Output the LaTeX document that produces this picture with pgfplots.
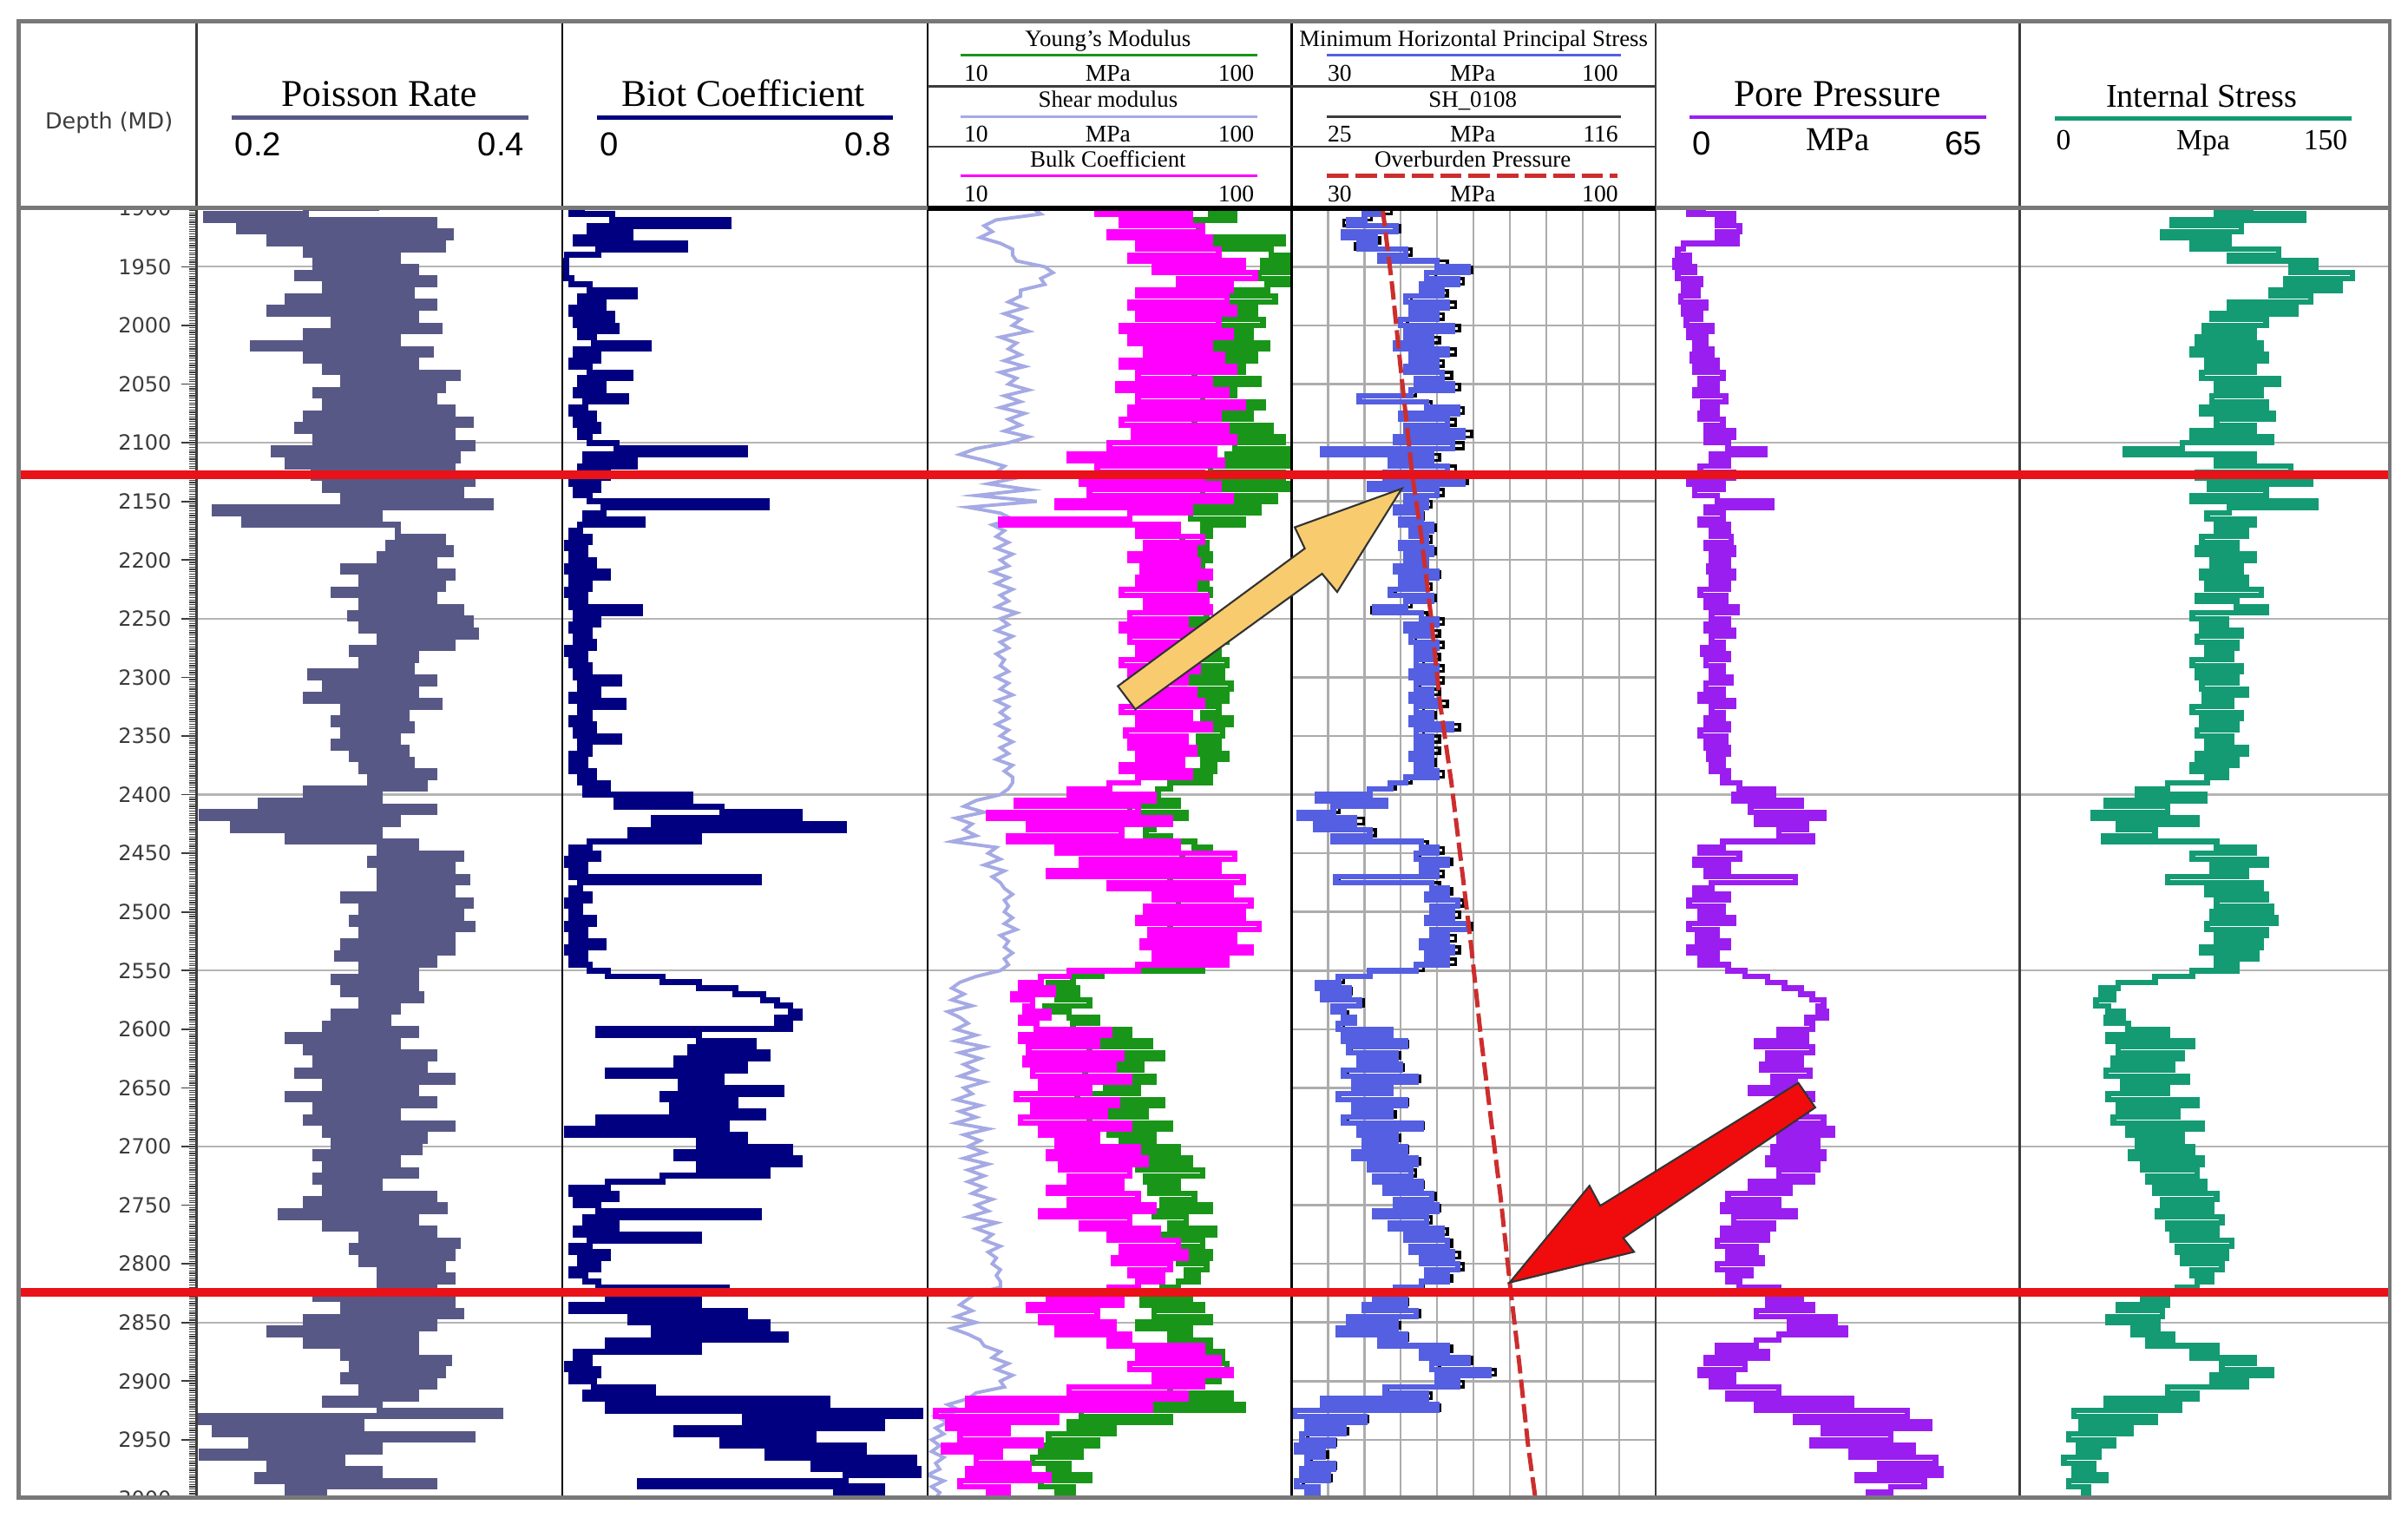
\documentclass[border=0pt]{standalone}
\usepackage{pgfplots}
\pgfplotsset{compat=1.18}
\usepackage{pgfplotstable}
\usepackage{fontspec}
\setmainfont{Liberation Serif}
\newfontfamily\arial{Liberation Sans}
\newfontfamily\dejavu{DejaVu Sans}
\newcommand\fs[1]{\fontsize{#1}{#1}\selectfont}

\definecolor{poiss}{RGB}{88,88,135}
\definecolor{biot}{RGB}{0,0,128}
\definecolor{young}{RGB}{25,150,25}
\definecolor{shear}{RGB}{165,170,228}
\definecolor{bulk}{RGB}{255,0,255}
\definecolor{minh}{RGB}{85,95,225}
\definecolor{obp}{RGB}{205,45,45}
\definecolor{pore}{RGB}{155,30,240}
\definecolor{intl}{RGB}{20,155,115}
\definecolor{redline}{RGB}{232,18,24}
\definecolor{arrowy}{RGB}{248,204,110}
\definecolor{arrowr}{RGB}{240,12,12}
\definecolor{framec}{RGB}{120,120,120}
\definecolor{dgray}{RGB}{60,60,60}
\definecolor{gridc}{RGB}{180,180,180}

% depth, poisson, biot, young, shear, bulk, min horiz stress, SH_0108, pore pressure, internal stress
\pgfplotstableread{
d po bi ym sm bk mh sh pp is
1900 .30 .05 84 36 70 55 58 9 95
1905 .26 .02 80 38 52 47 50 6 80
1910 .205 .11 86 27 75 44 45 14 115
1915 .33 .365 72 24 58 41 38 11 62
1920 .223 .06 77 26 78 50 52 15 90
1925 .339 .15 70 23 55 40 40 11 58
1930 .24 .03 98 28 80 46 47 14.5 85
1935 .335 .27 72 31 62 43 41 5 70
1940 .26 .08 95 31 82 52 55 4 105
1945 .31 .01 99 32 60 47 49 6 85
1950 .265 .005 93 39 88 58 64 3.5 120
1955 .32 .01 100 41 66 64 70 7 110
1960 .255 .005 92 38 91 56 61 4 135
1965 .33 .02 99 39 72 62 68 8 108
1970 .27 .06 94 33 85 55 60 5 130
1975 .318 .16 80 33 62 59 64 7.5 102
1980 .25 .04 96 30 84 52 55 4.5 118
1985 .33 .09 82 34 60 60 66 9 85
1990 .24 .02 91 29 86 53 56 5 112
1995 .32 .11 78 33 62 58 63 8 78
2000 .275 .03 93 31 82 51 54 5.5 100
2005 .333 .12 79 35 58 61 67 10 75
2010 .26 .04 90 28 85 52 55 6 95
2015 .31 .07 80 32 60 57 62 9 72
2020 .231 .19 94 30 80 50 53 7 98
2025 .328 .03 77 33 64 60 66 10 70
2030 .26 .08 91 29 83 53 55 6.5 100
2035 .32 .02 81 34 58 58 63 11 76
2040 .27 .06 88 28 86 52 54 7 95
2045 .343 .15 76 32 62 59 65 12 74
2050 .28 .04 92 30 80 54 57 8 105
2055 .335 .09 79 35 57 61 67 11 80
2060 .265 .03 86 29 84 53 56 7 98
2065 .33 .14 78 33 62 43 42 12.5 78
2070 .27 .05 93 28 88 56 60 8.5 100
2075 .34 .02 80 34 60 62 68 11 74
2080 .26 .07 90 30 82 51 53 8 103
2085 .35 .03 76 33 58 60 66 12 80
2090 .255 .08 95 29 84 52 55 9 95
2095 .34 .04 82 35 61 63 70 14 70
2100 .265 .06 98 30 86 50 53 9 102
2105 .351 .12 86 22 55 61 68 13 66
2110 .242 .40 100 18 81 36 33 19.5 43
2115 .343 .05 84 24 45 57 62 10 95
2120 .25 .16 99 29 83 49 52 13 80
2125 .34 .04 80 27 52 60 66 8 110
2130 .264 .10 98 32 78 48 50 14 72
2135 .351 .02 74 25 48 63 69 6 118
2140 .27 .08 100 35 82 45 47 12 77
2145 .345 .03 78 22 50 58 63 7 100
2150 .28 .06 96 37 85 52 55 11 70
2155 .361 .447 76 20 42 56 60 20.7 120
2160 .21 .09 92 28 75 50 53 9 85
2165 .30 .05 75 31 60 55 58 12 76
2170 .226 .176 88 26 28 51 54 8 95
2175 .31 .04 78 29 72 57 61 13 80
2180 .31 .02 80 27 62 53 56 10 92
2185 .335 .06 73 30 78 56 60 13.5 74
2190 .305 .01 79 27 64 51 53 9 88
2195 .339 .05 72 31 76 57 61 14 72
2200 .30 .02 80 28 60 52 55 10 95
2205 .33 .07 74 30 77 56 59 13 78
2210 .28 .01 78 26 63 50 52 9.5 90
2215 .34 .10 72 30 80 58 62 14 74
2220 .29 .02 79 27 62 51 54 10 92
2225 .335 .06 74 31 76 56 60 13 76
2230 .275 .01 80 28 58 49 51 8 98
2235 .33 .05 71 30 79 57 61 12.5 72
2240 .29 .02 78 27 64 52 55 9 88
2245 .345 .17 75 32 80 46 45 14.5 100
2250 .284 .03 79 28 60 55 59 10 70
2255 .35 .08 73 30 74 58 63 13 84
2260 .29 .02 81 27 58 52 55 9 74
2265 .353 .06 75 31 78 57 62 14 90
2270 .30 .03 84 28 60 53 56 10 72
2275 .34 .07 76 30 75 58 63 12 88
2280 .285 .01 82 27 62 54 57 8.5 76
2285 .32 .05 77 29 73 57 62 13 86
2290 .29 .02 84 28 58 54 58 9 70
2295 .318 .06 76 30 77 58 63 12 90
2300 .262 .03 83 27 60 53 56 10 72
2305 .33 .125 75 30 74 58 63 13.5 88
2310 .27 .04 85 28 59 54 57 9 74
2315 .32 .08 77 31 76 57 62 12 92
2320 .26 .02 84 27 61 53 56 8 75
2325 .333 .135 76 30 78 58 64 14 86
2330 .28 .04 82 28 58 54 58 10 70
2335 .315 .06 78 30 75 57 61 12 90
2340 .275 .02 85 27 62 53 56 9 74
2345 .318 .07 76 30 80 60.7 67 13 88
2350 .28 .03 83 28 59 54 58 8 72
2355 .31 .125 77 31 74 57 62 12.5 86
2360 .275 .04 82 28 60 54 57 9 76
2365 .315 .06 76 30 76 57 62 13 92
2370 .285 .02 84 27 62 53 56 9.5 72
2375 .318 .05 78 31 73 57 61 12 88
2380 .29 .02 81 29 58 54 58 10 70
2385 .33 .07 75 31 75 58 63 13 84
2390 .295 .04 80 31 62 52 55 12 76
2395 .325 .10 70 30 55 49 51 15 60
2400 .26 .05 67 28 45 45 45 21 48
2405 .30 .28 62 22 66 35 33 14 75
2410 .235 .12 72 19 32 48 48 26 35
2415 .33 .35 60 24 62 38 37 17 60
2420 .203 .52 74 17 25 31.5 28 30 30
2425 .31 .20 61 21 70 42 43 18 72
2430 .22 .616 66 19 35 34.6 32 27 40
2435 .30 .15 64 22 58 45 46 22 55
2440 .25 .30 70 16 30 38 36 28 34
2445 .32 .06 76 27 72 55 59 12 80
2450 .30 .02 80 25 42 58 63 8 95
2455 .345 .08 73 28 86 54 57 15 70
2460 .295 .01 82 24 48 60 65 7 100
2465 .34 .05 72 29 82 55 58 13 78
2470 .30 .02 79 26 40 58 63 9 92
2475 .348 .43 70 28 88 38.5 37 25 60
2480 .30 .04 81 29 55 57 62 10 98
2485 .34 .02 75 31 85 60 65 7 76
2490 .28 .06 83 29 66 56 60 13 100
2495 .35 .01 72 30 90 62 68 6 80
2500 .29 .04 80 29 64 57 62 12 102
2505 .345 .02 74 31 88 61 67 8 78
2510 .285 .07 84 29 62 56 60 14 104
2515 .351 .01 70 32 92 64 70 6 76
2520 .29 .05 81 28 65 57 61 11 100
2525 .34 .02 73 30 86 60 66 7.5 80
2530 .28 .09 82 29 63 55 59 13 98
2535 .34 .01 74 31 90 61 67 6 74
2540 .277 .05 80 29 66 56 60 11 96
2545 .33 .02 76 30 84 60 66 8 80
2550 .29 .06 78 28 62 54 58 13 88
2555 .32 .10 53 22 45 45 45 16 70
2560 .275 .22 46 18 38 39 38 20 55
2565 .32 .30 40 16 33 35 32 23 40
2570 .28 .38 47 19 41 41 40 26 33
2575 .323 .44 42 16 31 36 34 28 38
2580 .29 .47 50 21 36 43 43 30 31
2585 .31 .50 39 15 34 38 35 29 36
2590 .275 .52 45 18 40 40 39 30.5 42
2595 .305 .47 52 20 33 42 41 27 35
2600 .27 .50 46 17 37 39 38 28 44
2605 .32 .08 60 22 55 49 50 22 60
2610 .25 .30 48 17 33 40 39 27 36
2615 .31 .42 65 24 52 52 54 18 70
2620 .26 .28 50 18 35 41 40 28 40
2625 .33 .45 68 23 58 50 52 20 66
2630 .265 .25 52 19 34 43 42 26 38
2635 .325 .40 63 22 56 51 53 19 62
2640 .255 .10 49 18 36 40 39 27.5 35
2645 .34 .35 66 24 60 54 57 21 68
2650 .27 .26 54 19 38 42 41 25 42
2655 .32 .48 62 21 50 49 50 17 60
2660 .25 .22 47 17 32 39 37 28 36
2665 .33 .38 68 23 57 52 54 22 72
2670 .265 .24 52 18 36 42 41 27 40
2675 .31 .44 64 22 54 49 51 21 64
2680 .26 .08 50 17 33 40 39 30 38
2685 .34 .36 70 25 60 55 58 23 74
2690 .27 .01 55 19 38 43 42 31.6 44
2695 .325 .40 66 23 52 50 52 22 66
2700 .275 .30 58 20 42 44 44 29 48
2705 .322 .50 72 24 62 52 54 21 70
2710 .265 .25 60 19 40 42 41 30 45
2715 .31 .52 75 25 64 54 57 20 74
2720 .27 .30 62 20 43 45 45 29 50
2725 .32 .45 78 24 60 53 56 22 72
2730 .265 .22 64 20 45 46 46 28 52
2735 .30 .10 72 24 58 55 58 17 75
2740 .27 .02 65 21 40 48 49 24 55
2745 .33 .12 76 26 62 57 61 13 80
2750 .26 .03 68 22 45 50 51 22 58
2755 .336 .08 80 25 66 58 62 12 78
2760 .246 .43 66 20 38 46 46 25 56
2765 .32 .05 74 27 60 56 60 14 82
2770 .27 .12 70 22 48 49 50 21 60
2775 .33 .03 81 26 67 59 64 12 80
2780 .29 .30 68 24 55 52 54 20 62
2785 .343 .06 78 28 72 60 65 11 86
2790 .285 .02 70 25 58 53 56 18 64
2795 .34 .10 80 27 74 61 67 13 84
2800 .29 .04 72 26 56 55 59 19 66
2805 .335 .08 79 28 70 62 68 11 82
2810 .30 .02 74 27 60 56 60 17 70
2815 .34 .05 77 28 68 60 65 13 78
2820 .30 .08 72 28 62 55 58 15 72
2825 .33 .36 68 22 55 50 52 22 64
2830 .265 .10 75 20 40 46 46 26 50
2835 .34 .30 63 18 58 52 54 20 60
2840 .28 .02 78 21 35 44 44 28 40
2845 .345 .40 66 17 52 54 57 18 58
2850 .26 .15 80 22 38 41 40 32 36
2855 .33 .45 62 16 56 50 52 24 56
2860 .24 .20 75 20 42 39 38 34 46
2865 .32 .49 70 23 60 52 54 22 62
2870 .26 .10 80 24 55 47 47 18 52
2875 .32 .30 72 28 78 60 65 11 80
2880 .28 .03 83 26 62 55 58 20 70
2885 .338 .06 75 30 82 64 70 9 95
2890 .285 .01 84 27 60 57 62 16 82
2895 .335 .08 78 31 85 68 76 8 102
2900 .28 .02 82 28 66 58 63 14 78
2905 .33 .07 74 29 78 62 68 10 92
2910 .29 .20 70 22 45 48 49 22 60
2915 .32 .05 85 20 74 56 60 13 72
2920 .27 .58 55 15 20 36 34 35 35
2925 .30 .10 88 18 65 58 62 18 65
2930 .366 .785 48 12 12 30.5 26 45 22
2935 .20 .40 70 15 42 44 44 25 55
2940 .29 .70 45 12 15 33 30 49 25
2945 .21 .25 56 14 30 40 39 30 45
2950 .351 .55 40 11 18 32 29 42 20
2955 .23 .35 52 13 38 38 36 28 38
2960 .30 .66 38 11 14 31 28 46 24
2965 .203 .45 48 14 28 36 34 35 32
2970 .28 .77 36 12 22 33 30 50 18
2975 .24 .55 45 13 35 38 36 40 30
2980 .30 .78 40 10 20 32 29 51 22
2985 .233 .62 50 14 40 37 35 36 35
2990 .33 .17 38 11 18 31 28 48 20
2995 .25 .70 46 13 30 35 32 42 28
3000 .27 .60 42 12 25 33 30 38 26
}\logdata

\pgfplotsset{
  track/.style={
    scale only axis, height=420pt, anchor=north west,
    ymin=1900, ymax=3000, y dir=reverse,
    axis line style={draw=none}, tick style={draw=none},
    xtick=\empty, ytick={1950,2100,2250,2400,2550,2700,2850},
    yticklabels={}, xticklabels={}, ymajorgrids,
    grid style={gridc, line width=0.6pt},
  },
  logc/.style={const plot mark left, no marks, line join=miter},
}

\begin{document}
\begin{tikzpicture}
\useasboundingbox (0,0) rectangle (784pt,-494pt);

% depth ruler
\begin{axis}[scale only axis, height=420pt, width=119pt, anchor=north west,
  at={(64pt,-67.75pt)}, ymin=1900, ymax=3000, y dir=reverse, xmin=0, xmax=1,
  axis line style={draw=none}, xtick=\empty,
  ytick={1900,1950,...,3000},
  yticklabels={1900,1950,2000,2050,2100,2150,2200,2250,2300,2350,2400,2450,2500,2550,2600,2650,2700,2750,2800,2850,2900,2950,3000},
  ytick pos=left, tick align=outside, minor y tick num=24,
  major tick length=5pt, minor tick length=2.5pt,
  major tick style={dgray, line width=0.5pt},
  minor tick style={dgray, line width=0.35pt},
  yticklabel style={font=\dejavu\fs{6.8}, text=dgray, inner sep=0pt, xshift=-3pt}]
\end{axis}

% Poisson
\begin{axis}[track, at={(64pt,-67.75pt)}, width=119pt, xmin=0.2, xmax=0.4]
\addplot[logc, poiss, line width=1.95pt] table[x=po, y=d] {\logdata};
\end{axis}

% Biot
\begin{axis}[track, at={(183pt,-67.75pt)}, width=119pt, xmin=0, xmax=0.8]
\addplot[logc, biot, line width=1.95pt] table[x=bi, y=d] {\logdata};
\end{axis}

% moduli
\begin{axis}[track, at={(302pt,-67.75pt)}, width=118.5pt, xmin=10, xmax=100]
\addplot[shear, line width=1.1pt, no marks] table[x=sm, y=d] {\logdata};
\addplot[logc, young, line width=1.85pt] table[x=ym, y=d] {\logdata};
\addplot[logc, bulk, line width=1.85pt] table[x=bk, y=d] {\logdata};
\end{axis}

% stresses: grid, then SH, then min horizontal stress, overburden on top
\begin{axis}[track, at={(420.5pt,-67.75pt)}, width=118.5pt, xmin=30, xmax=100,
  ytick={1950,2000,...,2950}, xtick={37,44,...,93}, xmajorgrids,
  grid style={gray!65, line width=0.7pt}]
\end{axis}
\begin{axis}[track, at={(420.5pt,-67.75pt)}, width=118.5pt, xmin=25, xmax=116, ymajorgrids=false]
\addplot[logc, black, line width=1pt] table[x=sh, y=d] {\logdata};
\end{axis}
\begin{axis}[track, at={(420.5pt,-67.75pt)}, width=118.5pt, xmin=30, xmax=100, ymajorgrids=false]
\addplot[logc, minh, line width=1.85pt] table[x=mh, y=d] {\logdata};
\addplot[obp, line width=1.4pt, dash pattern=on 6pt off 2pt] coordinates {
(47.5,1900) (49.35,1966) (51.0,2037) (53.2,2127) (54.9,2178) (56.85,2249)
(58.5,2320) (60.75,2390) (62.7,2461) (64.6,2531) (66.3,2602) (68.25,2673)
(70.2,2743) (72.1,2821) (73.8,2885) (75.5,2955) (76.9,3000)};
\end{axis}

% pore pressure
\begin{axis}[track, at={(539pt,-67.75pt)}, width=118.5pt, xmin=0, xmax=65]
\addplot[logc, pore, line width=1.85pt] table[x=pp, y=d] {\logdata};
\end{axis}

% internal stress
\begin{axis}[track, at={(657.5pt,-67.75pt)}, width=120.5pt, xmin=0, xmax=150]
\addplot[logc, intl, line width=1.85pt] table[x=is, y=d] {\logdata};
\end{axis}

\begin{scope}[x=0.5pt, y=-0.5pt]
  % track separators
  \draw[dgray, line width=0.7pt] (128,14) -- (128,975);
  \draw[black, line width=0.6pt] (366,14) -- (366,975);
  \draw[black, line width=0.7pt] (604,14) -- (604,975);
  \draw[black, line width=0.8pt] (841,14) -- (841,975);
  \draw[dgray, line width=0.7pt] (1078,14) -- (1078,975);
  \draw[dgray, line width=0.7pt] (1315,14) -- (1315,975);

  % red marker lines
  \draw[redline, line width=2.8pt] (12,309) -- (1556,309);
  \draw[redline, line width=2.8pt] (12,841.5) -- (1556,841.5);

  % arrows
  \filldraw[fill=arrowy, draw=black!80, line width=0.6pt]
    (912.8,318.1) -- (843.1,343.3) -- (849.6,357.1) -- (727.9,446.7)
    -- (739.3,461.8) -- (860.9,373.5) -- (870.7,385.4) -- cycle;
  \filldraw[fill=arrowr, draw=black!80, line width=0.6pt]
    (983,835) -- (1035,772) -- (1042,785) -- (1171,705)
    -- (1182,721) -- (1057,806) -- (1064,815) -- cycle;

  % header area
  \fill[white] (12,14) rectangle (1556,135.5);
  \fill[white] (0,975.5) rectangle (1568,988);
  \foreach \xx/\cc in {128/dgray,366/black,604/black,841/black,1078/dgray,1315/dgray}
    \draw[\cc, line width=0.7pt] (\xx,14) -- (\xx,135.5);
  \draw[dgray, line width=0.8pt] (604,56) -- (1078,56);
  \draw[dgray, line width=0.8pt] (604,95.5) -- (1078,95.5);

  \node[font=\dejavu\fs{7.2}, text=dgray, anchor=base] at (71,84) {Depth (MD)};

  \node[font=\fs{12.3}, anchor=base] at (247,69) {Poisson Rate};
  \draw[poiss, line width=1.3pt] (150.6,76.5) -- (344,76.5);
  \node[font=\arial\fs{10.8}, anchor=base west, inner sep=0pt] at (152.6,101.5) {0.2};
  \node[font=\arial\fs{10.8}, anchor=base east, inner sep=0pt] at (341.7,101.5) {0.4};

  \node[font=\fs{12.3}, anchor=base] at (484,69) {Biot Coefficient};
  \draw[biot, line width=1.3pt] (388.5,76.5) -- (581.5,76.5);
  \node[font=\arial\fs{10.8}, anchor=base west, inner sep=0pt] at (390.4,101.5) {0};
  \node[font=\arial\fs{10.8}, anchor=base east, inner sep=0pt] at (580.7,101.5) {0.8};

  % moduli header
  \node[font=\fs{7.6}, anchor=base] at (721.5,30) {Young's Modulus};
  \draw[young, line width=1pt] (625.7,36) -- (818.8,36);
  \node[font=\fs{7.8}, anchor=base west, inner sep=0pt] at (627.4,53) {10};
  \node[font=\fs{7.8}, anchor=base, inner sep=0pt] at (721.5,53) {MPa};
  \node[font=\fs{7.8}, anchor=base east, inner sep=0pt] at (817,53) {100};
  \node[font=\fs{7.6}, anchor=base] at (721.5,70) {Shear modulus};
  \draw[shear, line width=1pt] (625.7,76) -- (818.8,76);
  \node[font=\fs{7.8}, anchor=base west, inner sep=0pt] at (627.4,92.5) {10};
  \node[font=\fs{7.8}, anchor=base, inner sep=0pt] at (721.5,92.5) {MPa};
  \node[font=\fs{7.8}, anchor=base east, inner sep=0pt] at (817,92.5) {100};
  \node[font=\fs{7.6}, anchor=base] at (721.5,109) {Bulk Coefficient};
  \draw[bulk, line width=1pt] (625.7,114.5) -- (818.8,114.5);
  \node[font=\fs{7.8}, anchor=base west, inner sep=0pt] at (627.4,131.5) {10};
  \node[font=\fs{7.8}, anchor=base east, inner sep=0pt] at (817,131.5) {100};

  % stress header
  \node[font=\fs{7.55}, anchor=base] at (959.5,30) {Minimum Horizontal Principal Stress};
  \draw[minh, line width=1pt] (864.2,36) -- (1055.6,36);
  \node[font=\fs{7.8}, anchor=base west, inner sep=0pt] at (864.2,53) {30};
  \node[font=\fs{7.8}, anchor=base, inner sep=0pt] at (959,53) {MPa};
  \node[font=\fs{7.8}, anchor=base east, inner sep=0pt] at (1054,53) {100};
  \node[font=\fs{7.6}, anchor=base] at (959,70) {SH\_0108};
  \draw[dgray, line width=1pt] (864.2,76) -- (1055.6,76);
  \node[font=\fs{7.8}, anchor=base west, inner sep=0pt] at (864.2,92.5) {25};
  \node[font=\fs{7.8}, anchor=base, inner sep=0pt] at (959,92.5) {MPa};
  \node[font=\fs{7.8}, anchor=base east, inner sep=0pt] at (1054,92.5) {116};
  \node[font=\fs{7.6}, anchor=base] at (959,109) {Overburden Pressure};
  \draw[obp, line width=1.6pt, dash pattern=on 7pt off 2.2pt] (864.2,114.5) -- (1053,114.5);
  \node[font=\fs{7.8}, anchor=base west, inner sep=0pt] at (864.2,131.5) {30};
  \node[font=\fs{7.8}, anchor=base, inner sep=0pt] at (959,131.5) {MPa};
  \node[font=\fs{7.8}, anchor=base east, inner sep=0pt] at (1054,131.5) {100};

  % pore pressure header
  \node[font=\fs{12.3}, anchor=base] at (1196.5,69) {Pore Pressure};
  \draw[pore, line width=1.3pt] (1100.4,76.3) -- (1293.3,76.3);
  \node[font=\arial\fs{10.8}, anchor=base west, inner sep=0pt] at (1101.8,101) {0};
  \node[font=\fs{10.9}, anchor=base, inner sep=0pt] at (1196.6,98) {MPa};
  \node[font=\arial\fs{10.8}, anchor=base east, inner sep=0pt] at (1291,101) {65};

  % internal stress header
  \node[font=\fs{10.8}, anchor=base] at (1433.5,70) {Internal Stress};
  \draw[intl, line width=1.3pt] (1337.8,77.2) -- (1531.4,77.2);
  \node[font=\fs{9.5}, anchor=base west, inner sep=0pt] at (1338.5,97.5) {0};
  \node[font=\fs{9.5}, anchor=base, inner sep=0pt] at (1434.6,97.5) {Mpa};
  \node[font=\fs{9.5}, anchor=base east, inner sep=0pt] at (1529,97.5) {150};

  % frame
  \draw[framec, line width=1.3pt] (12,135.5) -- (1556,135.5);
  \draw[black, line width=1.6pt] (604,135.5) -- (1078,135.5);
  \draw[framec, line width=1.3pt] (12,14) rectangle (1556,975);
\end{scope}
\end{tikzpicture}
\end{document}
